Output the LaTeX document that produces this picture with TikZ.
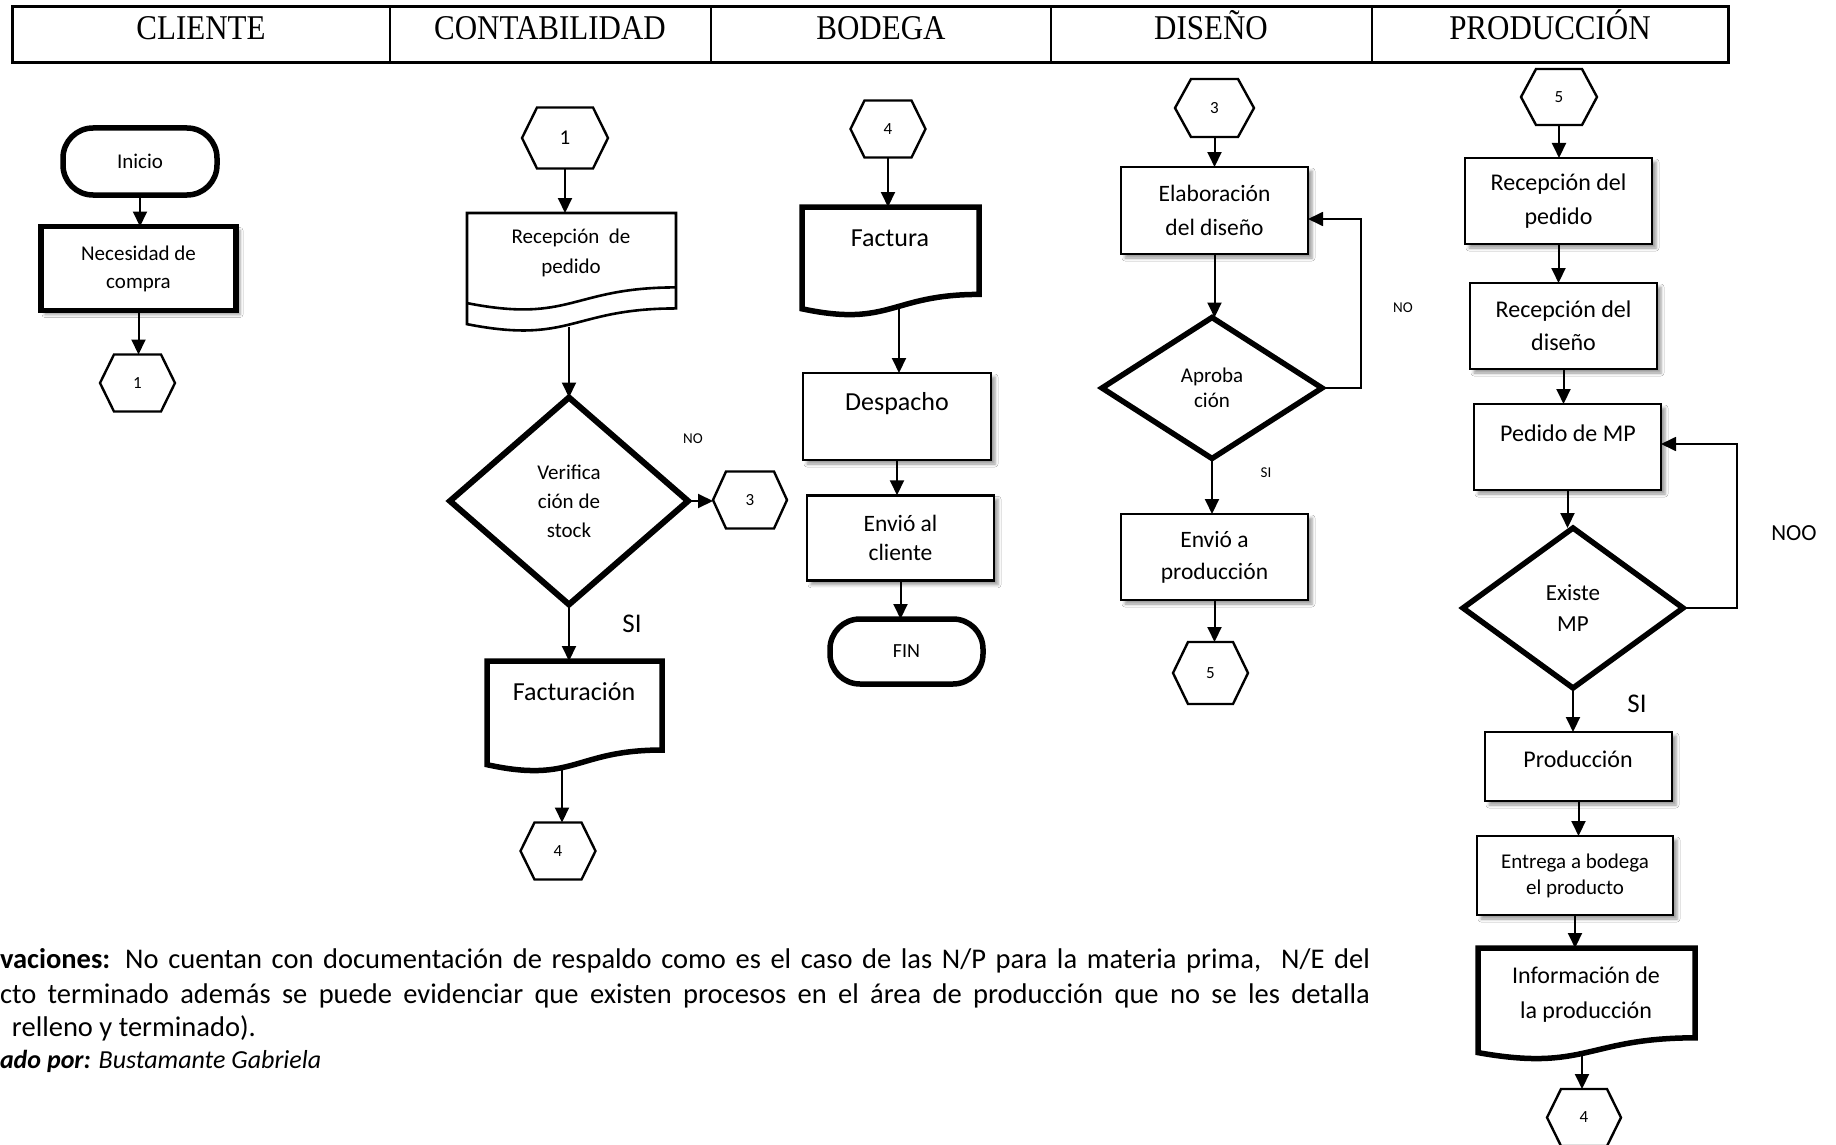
\documentclass[tikz,border=0pt]{standalone}
\usepackage{graphicx}
\usepackage{fontspec}
\setmainfont{Carlito}
\newfontfamily\hdrfont{Liberation Serif}
\usetikzlibrary{arrows.meta,shapes.geometric,shadows.blur}

\newcommand\fsz[2]{\fontsize{#1}{#2}\selectfont}
\newcommand\lanetext[1]{\scalebox{1}[1.12]{#1}}

% hexagonal connector outline drawn around a rectangular slot node
\newcommand\hexframe[2]{%
  \draw[hexline] (#1.west) -- ([xshift=#2]#1.north west) -- ([xshift=-#2]#1.north east)
    -- (#1.east) -- ([xshift=-#2]#1.south east) -- ([xshift=#2]#1.south west) -- cycle;}

% document symbol: style, left, top, width, height
\newcommand\docframe[5]{%
  \draw[#1] (#2,#3) -- ({#2+#4},#3) -- ({#2+#4},{#3+0.802*#5})
    .. controls ({#2+0.5*#4},{#3+0.802*#5}) and ({#2+0.5*#4},{#3+1.107*#5}) .. (#2,{#3+0.934*#5}) -- cycle;}

\tikzset{
  every node/.style={inner sep=0pt, outer sep=0pt},
  lanehead/.style={anchor=base, font=\hdrfont\fsz{31}{31}},
  procbox/.style={rectangle, draw, line width=2.6pt, fill=white, align=center,
    blur shadow={shadow xshift=4pt, shadow yshift=-4pt, shadow blur radius=3pt, shadow opacity=40}},
  terminal/.style={rectangle, rounded corners=30pt, draw, line width=5.5pt, fill=white, align=center},
  decision/.style={diamond, draw, line width=5.5pt, fill=white, align=center},
  hexslot/.style={rectangle, minimum width=75pt, minimum height=57pt, align=center},
  doctext/.style={align=center},
  flowtag/.style={align=center},
  flowarrow/.style={line width=2pt, -{Triangle[length=15pt,width=14pt]}},
  looparrow/.style={line width=1.8pt, -{Triangle[length=15pt,width=14pt]}},
  hexline/.style={line width=2.4pt, line join=miter},
  docline/.style={line width=2.6pt, line join=miter},
  heavydoc/.style={line width=5.5pt, line join=miter},
}

\begin{document}
\begin{tikzpicture}[x=1pt, y=-1pt]
\useasboundingbox (0,0) rectangle (1836,1145);
\fill[white] (0,0) rectangle (1836,1145);

% ---- swimlane header ----
\draw[line width=3pt] (12,7) rectangle (1728,63);
\foreach \xd in {390,711,1051,1372} \draw[line width=2pt] (\xd,7) -- (\xd,63);
\node[lanehead] (hCli) at (201,40) {\lanetext{CLIENTE}};
\node[lanehead] (hCon) at (550,40) {\lanetext{CONTABILIDAD}};
\node[lanehead] (hBod) at (881,40) {\lanetext{BODEGA}};
\node[lanehead] (hDis) at (1211,40) {\lanetext{DISEÑO}};
\node[lanehead] (hPro) at (1550,40) {\lanetext{PRODUCCIÓN}};

% ---- CLIENTE ----
\node[terminal, minimum width=154pt, minimum height=67pt, font=\fsz{21}{25}] (ini) at (140,161.5) {Inicio};
\node[procbox, line width=5.5pt, minimum width=195pt, minimum height=84pt, font=\fsz{21}{28}] (nec) at (138.5,268.5) {Necesidad de\\compra};
\node[hexslot, font=\fsz{17}{20}] (cA1) at (137.5,383) {1};
\hexframe{cA1}{14pt}
\draw[flowarrow] (ini.south) -- (ini.south |- nec.north);
\draw[flowarrow] (nec.south) -- (nec.south |- cA1.north);

% ---- CONTABILIDAD ----
\node[hexslot, minimum width=86pt, minimum height=61pt, font=\fsz{21}{24}] (cB1) at (565,138) {1};
\hexframe{cB1}{15pt}
\docframe{docline}{467}{213}{209}{119}
\draw[docline] (467,303.1) .. controls (571.5,323.7) and (571.5,287.4) .. (676,287.4);
\coordinate (recp-top) at (571.5,213);
\coordinate (recp-bot) at (569,326.5);
\node[doctext, font=\fsz{21}{30}] (recp) at (571,253) {Recepción\ \ de\\pedido};
\draw[flowarrow] (cB1.south) -- (cB1.south |- recp-top);

\node[decision, minimum width=238pt, minimum height=207pt, line width=6pt, font=\fsz{21}{29}] (ver) at (569,501) {Verifica\\ción de\\stock};
\draw[flowarrow] (recp-bot) -- (recp-bot |- ver.north);
\node[flowtag, font=\fsz{15}{18}] (no1) at (693,439) {NO};
\node[hexslot, minimum width=74pt, font=\fsz{17}{20}] (cB3) at (750,500) {3};
\hexframe{cB3}{13pt}
\draw[flowarrow] (ver.east) -- (ver.east -| cB3.west);
\node[flowtag, font=\fsz{27}{32}] (si1) at (632,624) {SI};

\docframe{heavydoc}{487}{661}{175}{111}
\coordinate (fact-top) at (574.5,661);
\coordinate (fact-bot) at (562,768);
\node[doctext, font=\fsz{26}{31}] (fact) at (574,692) {Facturación};
\draw[flowarrow] (ver.south) -- (ver.south |- fact-top);
\node[hexslot, font=\fsz{17}{20}] (cB4) at (558,851) {4};
\hexframe{cB4}{14pt}
\draw[flowarrow] (fact-bot) -- (fact-bot |- cB4.north);

% ---- BODEGA ----
\node[hexslot, font=\fsz{17}{20}] (cC4) at (888,129) {4};
\hexframe{cC4}{14pt}
\docframe{heavydoc}{802}{207}{177}{109}
\coordinate (fac2-top) at (890.5,207);
\coordinate (fac2-bot) at (899,306.5);
\node[doctext, font=\fsz{26}{31}] (fac2) at (890,238) {Factura};
\draw[flowarrow] (cC4.south) -- (cC4.south |- fac2-top);

\node[procbox, minimum width=188pt, minimum height=87pt] (desp) at (897,416.5) {};
\node[doctext, font=\fsz{26}{31}] (despT) at (897,404) {Despacho};
\draw[flowarrow] (fac2-bot) -- (fac2-bot |- desp.north);
\node[procbox, minimum width=187pt, minimum height=85.5pt, font=\fsz{23.5}{28.5}] (envc) at (900.5,538) {Envió al\\cliente};
\draw[flowarrow] (desp.south) -- (desp.south |- envc.north);
\node[terminal, minimum width=153pt, minimum height=65pt, font=\fsz{20}{24}] (fin) at (906.5,651.5) {FIN};
\draw[flowarrow] (envc.south) -- (envc.south |- fin.north);

% ---- DISEÑO ----
\node[hexslot, minimum width=79pt, minimum height=58pt, font=\fsz{17}{20}] (cD3) at (1214.5,108) {3};
\hexframe{cD3}{16pt}
\node[procbox, minimum width=187pt, minimum height=87pt, font=\fsz{23.5}{34.5}] (elab) at (1214.5,210.5) {Elaboración\\del diseño};
\draw[flowarrow] (cD3.south) -- (cD3.south |- elab.north);
\node[decision, minimum width=220pt, minimum height=141pt, font=\fsz{21}{25}] (apr) at (1212,388) {Aproba\\ción};
\draw[flowarrow] (elab.south) -- (elab.south |- apr.north);
\coordinate (aprLoop) at (1361,219);
\draw[looparrow] (apr.east) -| (aprLoop) -- (aprLoop -| elab.east);
\node[flowtag, font=\fsz{15}{18}] (no2) at (1403,308) {NO};
\node[flowtag, font=\fsz{15}{18}] (si2) at (1266,473) {SI};
\node[procbox, minimum width=187pt, minimum height=86pt, font=\fsz{23.5}{32}] (envp) at (1214.5,557) {Envió a\\producción};
\draw[flowarrow] (apr.south) -- (apr.south |- envp.north);
\node[hexslot, minimum height=62pt, font=\fsz{17}{20}] (cD5) at (1210.5,673) {5};
\hexframe{cD5}{15pt}
\draw[flowarrow] (envp.south) -- (envp.south |- cD5.north);

% ---- PRODUCCIÓN ----
\node[hexslot, minimum width=76pt, minimum height=56pt, font=\fsz{17}{20}] (cE5) at (1559,97) {5};
\hexframe{cE5}{15pt}
\node[procbox, minimum width=187pt, minimum height=86pt, font=\fsz{24}{34}] (rped) at (1558.5,201) {Recepción del\\pedido};
\draw[flowarrow] (cE5.south) -- (cE5.south |- rped.north);
\node[procbox, minimum width=187pt, minimum height=86pt, font=\fsz{24}{33}] (rdis) at (1563.5,326) {Recepción del\\diseño};
\draw[flowarrow] (rped.south) -- (rped.south |- rdis.north);
\node[procbox, minimum width=187pt, minimum height=86pt] (pmp) at (1567.5,447) {};
\node[doctext, font=\fsz{24}{29}] (pmpT) at (1568,433) {Pedido de MP};
\draw[flowarrow] (rdis.south) -- (rdis.south |- pmp.north);
\node[decision, minimum width=220pt, minimum height=160pt, font=\fsz{23}{31.5}] (emp) at (1573,608) {Existe\\MP};
\draw[flowarrow] (pmp.south) -- (pmp.south |- emp.north);
\coordinate (empLoop) at (1737,444);
\draw[looparrow] (emp.east) -| (empLoop) -- (empLoop -| pmp.east);
\node[flowtag, font=\fsz{23}{28}] (noo) at (1794,533) {NOO};
\node[flowtag, font=\fsz{27}{32}] (si3) at (1637,704) {SI};
\node[procbox, minimum width=187pt, minimum height=69pt] (prod) at (1578.5,766.5) {};
\node[doctext, font=\fsz{24}{29}] (prodT) at (1578,759) {Producción};
\draw[flowarrow] (emp.south) -- (emp.south |- prod.north);
\node[procbox, minimum width=196pt, minimum height=79pt, font=\fsz{21}{26}] (entr) at (1575,875.5) {Entrega a bodega\\el producto};
\draw[flowarrow] (prod.south) -- (prod.south |- entr.north);
\docframe{heavydoc}{1478}{948}{217}{112}
\coordinate (info-top) at (1576,948);
\coordinate (info-bot) at (1582,1053);
\node[doctext, font=\fsz{24}{35}] (info) at (1586,994.5) {Información de\\la producción};
\draw[flowarrow] (entr.south) -- (entr.south |- info-top);
\node[hexslot, minimum width=74pt, font=\fsz{17}{20}] (cE4) at (1584,1117.5) {4};
\hexframe{cE4}{14pt}
\draw[flowarrow] (info-bot) -- (info-bot |- cE4.north);

% ---- notes under the chart ----
\node[anchor=base west, font=\fsz{28.5}{34}] (obs1) at (0,968)
  {\makebox[1370pt][s]{\textbf{vaciones:} No cuentan con documentación de respaldo como es el caso de las N/P para la materia prima,~ N/E del}};
\node[anchor=base west, font=\fsz{28.5}{34}] (obs2) at (0,1003)
  {\makebox[1370pt][s]{cto terminado además se puede evidenciar que existen procesos en el área de producción que no se les detalla}};
\node[anchor=base west, font=\fsz{28.5}{34}] (obs3) at (12,1036) {relleno y terminado).};
\node[anchor=base west, font=\fsz{26}{31}\itshape] (obs4) at (0,1068) {\textbf{ado por:} Bustamante Gabriela};
\end{tikzpicture}
\end{document}
